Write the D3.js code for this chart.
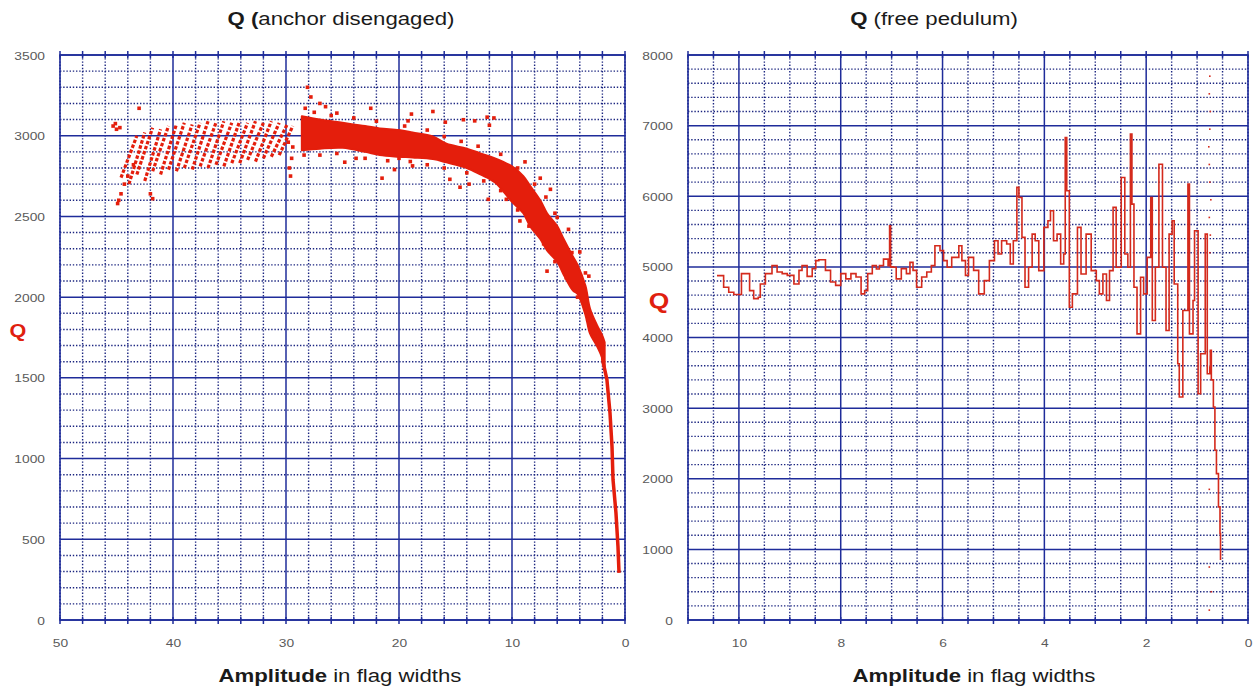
<!DOCTYPE html>
<html><head><meta charset="utf-8">
<script src="https://cdn.jsdelivr.net/npm/d3@7"></script>
<style>body{margin:0;background:#fff}</style>
</head><body>
<svg id="chart" width="1257" height="687"></svg>
<script>
// ---------- LEFT PANEL DATA (anchor disengaged) ----------
const leftXTicks = [50, 40, 30, 20, 10, 0];
const leftYTicks = [0, 500, 1000, 1500, 2000, 2500, 3000, 3500];

// dense band of points: amplitude, upper and lower edge of Q
const bandAmp   = [28.6, 27, 25, 23, 21.7, 20, 18.8, 17, 15.8, 14, 12.8, 11.5, 10, 9, 8.4, 7.5, 6.9, 6, 5.5, 4.6, 4.2, 3.5, 3.1, 2.5, 2.0, 1.8];
const bandUpper = [3120, 3100, 3080, 3060, 3045, 3035, 3020, 2995, 2950, 2920, 2890, 2860, 2810, 2750, 2690, 2600, 2520, 2440, 2370, 2250, 2200, 2070, 1930, 1830, 1760, 1720];
const bandLower = [2910, 2920, 2925, 2900, 2880, 2870, 2865, 2855, 2835, 2800, 2760, 2710, 2590, 2520, 2440, 2360, 2290, 2220, 2150, 2040, 2020, 1890, 1775, 1700, 1620, 1560];

// steep tail near zero amplitude
const tailAmp = [2.0, 1.95, 1.6, 1.33, 1.15, 1.06, 0.8, 0.62, 0.53];
const tailQ   = [1650, 1600, 1489, 1284, 1074, 869, 664, 453, 292];

// diagonal striped streaks at large amplitude
const stripeAmpLow  = [44.6, 43.9, 43.2, 42.5, 41.8, 41.1, 40.4, 39.7, 39.0, 38.3, 37.6, 36.9, 36.2, 35.5, 34.8, 34.1, 33.4, 32.7, 32.0, 31.3, 30.6];
const stripeQLow    = [2740, 2700, 2760, 2720, 2780, 2760, 2790, 2780, 2800, 2790, 2810, 2800, 2820, 2810, 2830, 2830, 2850, 2840, 2860, 2870, 2880];
const stripeAmpHigh = [43.2, 42.5, 41.8, 41.1, 40.4, 39.7, 39.0, 38.3, 37.6, 36.9, 36.2, 35.5, 34.8, 34.1, 33.4, 32.7, 32.0, 31.3, 30.6, 29.9, 29.4];
const stripeQHigh   = [3000, 3020, 3050, 3040, 3060, 3070, 3080, 3070, 3080, 3090, 3080, 3090, 3080, 3090, 3080, 3090, 3080, 3090, 3080, 3070, 3060];

// scattered outlier points (incl. fuzzy band edges)
const leftOutAmp = [45.3, 45.0, 44.7, 45.1, 43.0, 44.8, 44.6, 44.9, 44.3, 44.0, 42.0, 41.8, 43.5, 29.6, 29.7, 29.5, 29.4, 29.8, 28.1, 27.8, 27.0, 26.5, 21.5, 20.0, 20.4, 24.8, 18.9, 19.2, 18.8, 15.9, 15.5, 14.6, 14.3, 13.8, 13.3, 12.2, 12.0, 11.6, 12.1, 10.5, 9.3, 8.85, 7.5, 6.6, 6.0, 6.9, 4.7, 3.5, 22.5, 17.0, 25.5, 23.8,
  27.5, 26.0, 24.0, 22.0, 19.5, 17.5, 16.0, 14.5, 13.0, 11.0, 9.5, 8.0, 7.0, 6.2, 5.0, 4.0, 3.2,
  27.0, 25.5, 23.0, 21.0, 19.0, 17.5, 16.0, 14.0, 12.5, 11.0, 9.5, 8.5, 7.2, 6.2, 5.2, 4.2, 3.3, 2.7, 28.4, 28.3];
const leftOutQ   = [3060, 3040, 3050, 3075, 3170, 2600, 2640, 2580, 2700, 2750, 2640, 2610, 2820, 2750, 2800, 2860, 2930, 2960, 3300, 3240, 3200, 3180, 2737, 2860, 2790, 2836, 3134, 3092, 2813, 3084, 2730, 2681, 3099, 2700, 3092, 3115, 3065, 3110, 2606, 2606, 2472, 2838, 2737, 2668, 2494, 2161, 2276, 2150, 3170, 3150, 3140, 2860,
  3145, 3125, 3110, 3090, 3060, 3035, 2995, 2965, 2935, 2885, 2800, 2700, 2620, 2520, 2420, 2280, 2130,
  2880, 2890, 2860, 2845, 2840, 2820, 2800, 2770, 2720, 2660, 2540, 2440, 2330, 2220, 2120, 2000, 1860, 1760, 2880, 3170];

// ---------- RIGHT PANEL DATA (free pendulum) ----------
const rightXTicks = [10, 8, 6, 4, 2, 0];
const rightYTicks = [0, 1000, 2000, 3000, 4000, 5000, 6000, 7000, 8000];

const rightAmp = [10.43, 10.3, 10.2, 10.1, 10.0, 9.95, 9.84, 9.79, 9.71, 9.62, 9.58, 9.48, 9.35, 9.25, 9.15, 9.05, 8.92, 8.82, 8.76, 8.66, 8.56, 8.49, 8.43, 8.35, 8.30, 8.20, 8.10, 8.00, 7.90, 7.80, 7.70, 7.60, 7.53, 7.47, 7.38, 7.30, 7.24, 7.16, 7.07, 7.04, 7.02, 6.97, 6.91, 6.81, 6.71, 6.64, 6.58, 6.51, 6.41, 6.31, 6.22, 6.15, 6.05, 5.98, 5.91, 5.82, 5.68, 5.62, 5.55, 5.49, 5.39, 5.29, 5.18, 5.08, 4.98, 4.91, 4.84, 4.74, 4.67, 4.61, 4.54, 4.50, 4.44, 4.38, 4.31, 4.24, 4.18, 4.11, 4.01, 3.93, 3.88, 3.82, 3.75, 3.68, 3.62, 3.59, 3.56, 3.51, 3.45, 3.35, 3.28, 3.18, 3.08, 2.98, 2.92, 2.85, 2.78, 2.72, 2.65, 2.59, 2.49, 2.42, 2.36, 2.31, 2.28, 2.24, 2.18, 2.11, 2.05, 1.98, 1.91, 1.88, 1.82, 1.75, 1.68, 1.61, 1.55, 1.49, 1.45, 1.38, 1.35, 1.28, 1.18, 1.15, 1.08, 1.05, 0.98, 0.93, 0.84, 0.80, 0.75, 0.74, 0.72, 0.68, 0.65, 0.62, 0.58, 0.55, 0.54];
const rightQ   = [4876, 4711, 4640, 4608, 4608, 4904, 4904, 4664, 4550, 4570, 4758, 4904, 5017, 4927, 4904, 4880, 4758, 4950, 5017, 4865, 4975, 5088, 5100, 5100, 4950, 4786, 4738, 4904, 4830, 4904, 4857, 4617, 4664, 4904, 5017, 4970, 5017, 5110, 5017, 5583, 5000, 4994, 4830, 4975, 4904, 5064, 4950, 4711, 4857, 4927, 5017, 5300, 5230, 5088, 4994, 5135, 5300, 5088, 4880, 5135, 4950, 4617, 4806, 5088, 5370, 5182, 5370, 5323, 5040, 5370, 6125, 5983, 5417, 4711, 4994, 5464, 5370, 4947, 5559, 5653, 5795, 5370, 5464, 5040, 5182, 6831, 6077, 4429, 4617, 5559, 4900, 5464, 4947, 4806, 4617, 4900, 4523, 4947, 5842, 4994, 6266, 5182, 4994, 6879, 5889, 4711, 4052, 4853, 4617, 5135, 5983, 4240, 4994, 6454, 4994, 4099, 5464, 5653, 4758, 3628, 3157, 4382, 6172, 4052, 4523, 5511, 3204, 3770, 5464, 3487, 3580, 3817, 3400, 3015, 2403, 2073, 1602, 1225, 848];

// sparse dotted points
const rightDotAmp = [0.75, 0.76, 0.74, 0.75, 0.77, 0.76, 0.75, 0.73, 0.76, 0.74, 0.75, 0.76, 0.76, 0.72, 0.76];
const rightDotQ   = [7700, 7450, 7200, 6950, 6700, 6450, 6200, 5950, 5700, 5450, 5200, 1850, 750, 400, 140];

// ---------- DRAWING ----------
const svg = d3.select("#chart");
const GRID_MAJOR = "#1f2c9a", GRID_MINOR = "#1c2680";
const RED = "#e41e0c", RED_LINE = "#d42a1c";
const SX = 1.2; // horizontal stretch of text in the original image
const FONT = "'Liberation Sans', Arial, Helvetica, sans-serif";

function panel(x, y, xMinor, xMajor, yMinor, yMajor) {
  const g = svg.append("g");
  const [x0, x1] = x.range(), [y1, y0] = y.range();
  const isMaj = (v, arr) => arr.some(m => Math.abs(m - v) < 1e-6);
  g.selectAll(".vmin").data(xMinor.filter(v => !isMaj(v, xMajor))).join("line")
    .attr("x1", d => x(d)).attr("x2", d => x(d)).attr("y1", y0).attr("y2", y1)
    .attr("stroke", GRID_MINOR).attr("stroke-width", 1.4).attr("stroke-dasharray", "1.4,1.8");
  g.selectAll(".hmin").data(yMinor.filter(v => !isMaj(v, yMajor))).join("line")
    .attr("y1", d => y(d)).attr("y2", d => y(d)).attr("x1", x0).attr("x2", x1)
    .attr("stroke", GRID_MINOR).attr("stroke-width", 1.4).attr("stroke-dasharray", "1.4,1.8");
  g.selectAll(".vmaj").data(xMajor).join("line")
    .attr("x1", d => x(d)).attr("x2", d => x(d)).attr("y1", y0).attr("y2", y1)
    .attr("stroke", GRID_MAJOR).attr("stroke-width", 1.5);
  g.selectAll(".hmaj").data(yMajor).join("line")
    .attr("y1", d => y(d)).attr("y2", d => y(d)).attr("x1", x0).attr("x2", x1)
    .attr("stroke", GRID_MAJOR).attr("stroke-width", 1.5);
  g.append("rect").attr("x", x0).attr("y", y0).attr("width", x1 - x0).attr("height", y1 - y0)
    .attr("fill", "none").attr("stroke", GRID_MAJOR).attr("stroke-width", 1.6);
  g.selectAll(".tt").data(xMinor).join("line")
    .attr("x1", d => x(d)).attr("x2", d => x(d)).attr("y1", y0 - 4).attr("y2", y0 + 3)
    .attr("stroke", GRID_MAJOR).attr("stroke-width", 1.5);
  g.selectAll(".tb").data(xMinor).join("line")
    .attr("x1", d => x(d)).attr("x2", d => x(d)).attr("y1", y1 - 3).attr("y2", y1 + 4)
    .attr("stroke", GRID_MAJOR).attr("stroke-width", 1.5);
  return g;
}

function axes(x, y, xt, yt) {
  const ax = svg.append("g").attr("transform", `translate(0,${y.range()[0]})`)
    .call(d3.axisBottom(x).tickValues(xt).tickSize(0).tickFormat(d3.format("d")));
  ax.select(".domain").remove();
  ax.attr("font-family", FONT).attr("font-size", 11.5);
  ax.selectAll("text").attr("y", 23).attr("dy", "0.35em").attr("fill", "#5a5a5a")
    .attr("transform", `scale(${SX},1)`);
  const ay = svg.append("g").attr("transform", `translate(${x.range()[0]},0)`)
    .call(d3.axisLeft(y).tickValues(yt).tickSize(0).tickFormat(d3.format("d")));
  ay.select(".domain").remove();
  ay.attr("font-family", FONT).attr("font-size", 11.5);
  ay.selectAll("text").attr("x", -15 / SX).attr("dy", "0.35em").attr("fill", "#5a5a5a")
    .attr("transform", `scale(${SX},1)`);
}

function label(cx, baseY, parts, size, color) {
  const t = svg.append("text").attr("transform", `translate(${cx},${baseY}) scale(${SX},1)`)
    .attr("text-anchor", "middle").attr("font-family", FONT).attr("font-size", size).attr("fill", color);
  parts.forEach(p => t.append("tspan").attr("font-weight", p[1] ? "bold" : "normal").text(p[0]));
}

// ---- left panel ----
const xL = d3.scaleLinear().domain([50, 0]).range([60, 625]);
const yL = d3.scaleLinear().domain([0, 3500]).range([620, 55]);
panel(xL, yL, d3.range(0, 51, 2), [40, 30, 20, 10], d3.range(0, 3501, 100), d3.range(0, 3501, 500));
axes(xL, yL, leftXTicks, leftYTicks);

const gL = svg.append("g");
const stripes = stripeAmpLow.map((a, i) => ({a0: a, q0: stripeQLow[i], a1: stripeAmpHigh[i], q1: stripeQHigh[i]}));
gL.selectAll(".stripe").data(stripes).join("line")
  .attr("x1", d => xL(d.a0)).attr("y1", d => yL(d.q0)).attr("x2", d => xL(d.a1)).attr("y2", d => yL(d.q1))
  .attr("stroke", RED).attr("stroke-width", 3.2).attr("stroke-dasharray", "3.5,1.8");

const band = bandAmp.map((a, i) => ({a, hi: bandUpper[i], lo: bandLower[i]}));
gL.append("path").datum(band)
  .attr("d", d3.area().x(d => xL(d.a)).y0(d => yL(d.lo)).y1(d => yL(d.hi)).curve(d3.curveCatmullRom))
  .attr("fill", RED).attr("stroke", RED).attr("stroke-width", 2).attr("stroke-linejoin", "round");

const tail = tailAmp.map((a, i) => ({a, q: tailQ[i]}));
gL.append("path").datum(tail)
  .attr("d", d3.line().x(d => xL(d.a)).y(d => yL(d.q)))
  .attr("fill", "none").attr("stroke", RED).attr("stroke-width", 3.5).attr("stroke-linejoin", "round");

const outL = leftOutAmp.map((a, i) => ({a, q: leftOutQ[i]}));
gL.selectAll(".out").data(outL).join("rect")
  .attr("x", d => xL(d.a) - 1.8).attr("y", d => yL(d.q) - 1.8).attr("width", 3.6).attr("height", 3.6)
  .attr("fill", RED);

label(341, 25, [["Q (", true], ["anchor disengaged)", false]], 18.5, "#1a1a1a");
label(340, 682, [["Amplitude", true], [" in flag widths", false]], 18.5, "#1a1a1a");
label(18, 337, [["Q", true]], 18, "#e0200e");

// ---- right panel ----
const xR = d3.scaleLinear().domain([11, 0]).range([688, 1248]);
const yR = d3.scaleLinear().domain([0, 8000]).range([620, 55]);
panel(xR, yR, d3.range(0, 11.01, 0.5), [10, 8, 6, 4, 2], d3.range(0, 8001, 200), d3.range(0, 8001, 1000));
axes(xR, yR, rightXTicks, rightYTicks);

const gR = svg.append("g");
const serR = rightAmp.map((a, i) => ({a, q: rightQ[i]}));
gR.append("path").datum(serR)
  .attr("d", d3.line().x(d => xR(d.a)).y(d => yR(d.q)).curve(d3.curveStepAfter))
  .attr("fill", "none").attr("stroke", RED_LINE).attr("stroke-width", 1.6).attr("stroke-linejoin", "miter");
const dotsR = rightDotAmp.map((a, i) => ({a, q: rightDotQ[i]}));
gR.selectAll(".dot").data(dotsR).join("rect")
  .attr("x", d => xR(d.a) - 0.8).attr("y", d => yR(d.q) - 0.8).attr("width", 1.6).attr("height", 1.6)
  .attr("fill", RED_LINE);

label(934, 25, [["Q", true], [" (free pedulum)", false]], 18.5, "#1a1a1a");
label(974, 682, [["Amplitude", true], [" in flag widths", false]], 18.5, "#1a1a1a");
label(659, 308, [["Q", true]], 22, "#e0200e");
</script>
</body></html>
